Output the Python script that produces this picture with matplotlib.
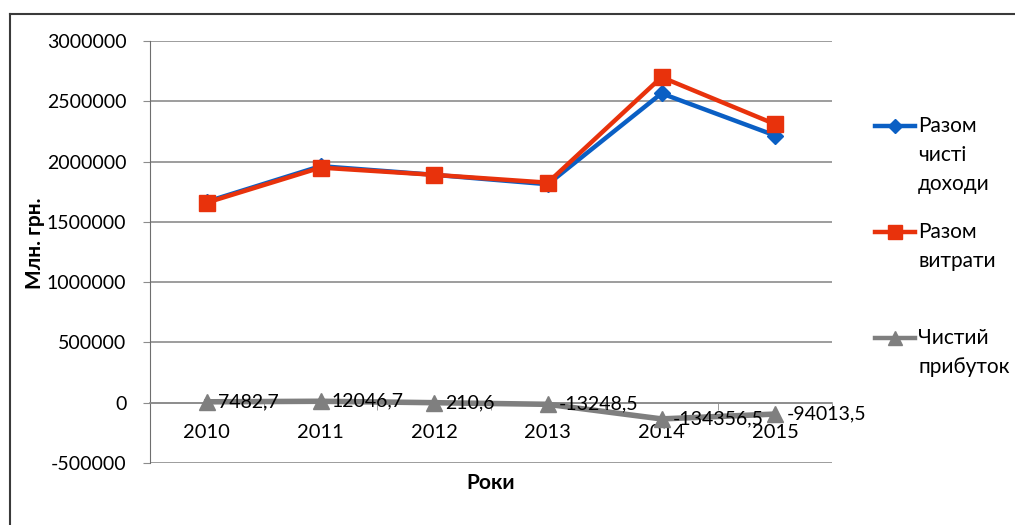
"""Income, expenses and net profit by year, 2010-2015."""

import matplotlib.pyplot as plt
from matplotlib.lines import Line2D
from matplotlib.ticker import FixedLocator, FuncFormatter, MultipleLocator

years = ["2010", "2011", "2012", "2013", "2014", "2015"]
income = [1667500, 1962000, 1890200, 1811800, 2565600, 2216000]
expenses = [1660000, 1950000, 1890000, 1825000, 2700000, 2310000]
net_profit = [7482.7, 12046.7, 210.6, -13248.5, -134356.5, -94013.5]
profit_labels = ["7482,7", "12046,7", "210,6", "-13248,5", "-134356,5", "-94013,5"]

series_names = [["Разом", "чисті", "доходи"], ["Разом", "витрати"], ["Чистий", "прибуток"]]

BLUE = "#0a5fc4"
RED = "#e8320c"
GREY = "#7f7f7f"
FS = 14

plt.rcParams["font.family"] = ["Lato", "DejaVu Sans"]

W, H = 1015, 525
fig = plt.figure(figsize=(W / 100, H / 100), dpi=100)
ax = fig.add_axes([150 / W, 1 - 463 / H, 682 / W, 422 / H])

x = range(len(years))
ax.plot(x, income, color=BLUE, lw=3.2, marker="D", ms=8, zorder=3)
ax.plot(x, expenses, color=RED, lw=3.2, marker="s", ms=11, zorder=4)
ax.plot(x, net_profit, color=GREY, lw=4, marker="^", ms=11, zorder=5)

for xi, val, lab in zip(x, net_profit, profit_labels):
    ax.annotate(lab, (xi, val), xytext=(8, 0), textcoords="offset points",
                ha="left", va="center", fontsize=FS, zorder=6)

ax.set_xlim(-0.5, len(years) - 0.5)
ax.set_ylim(-500000, 3000000)
ax.yaxis.set_major_locator(MultipleLocator(500000))
ax.yaxis.set_major_formatter(FuncFormatter(lambda v, _: f"{v:.0f}"))
ax.yaxis.grid(True, color="#8c8c8c", lw=1.2)
ax.set_axisbelow(True)

# category axis crosses the value axis at zero
ax.spines["bottom"].set_position(("data", 0))
ax.spines["bottom"].set_color("#8c8c8c")
ax.spines["bottom"].set_linewidth(1.2)
ax.spines["left"].set_color("#6e6e6e")
ax.spines["top"].set_visible(False)
ax.spines["right"].set_visible(False)

ax.set_xticks(list(x))
ax.set_xticklabels(years)
ax.xaxis.set_minor_locator(FixedLocator([i - 0.5 for i in range(len(years) + 1)]))
ax.tick_params(axis="x", which="major", length=0, pad=15, labelsize=FS + 0.5)
ax.tick_params(axis="x", which="minor", length=5, color="#8c8c8c", direction="out")
ax.tick_params(axis="y", length=5, color="#8c8c8c", pad=12, labelsize=FS)

fig.text(35 / W, 1 - 243 / H, "Млн. грн.", rotation=90, ha="center", va="center",
         fontsize=FS + 1, fontweight="bold")
fig.text(491 / W, 1 - 483 / H, "Роки", ha="center", va="center",
         fontsize=FS + 1, fontweight="bold")

# legend on the right, handle aligned with the first line of each label
legend_styles = [(BLUE, "D", 7), (RED, "s", 10), (GREY, "^", 10)]
legend_tops = [126, 232, 338]
for (color, marker, ms), lines, ytop in zip(legend_styles, series_names, legend_tops):
    yf = 1 - ytop / H
    fig.add_artist(Line2D([875 / W, 915 / W], [yf, yf], color=color, lw=3.2))
    fig.add_artist(Line2D([895 / W], [yf], color=color, marker=marker, ms=ms))
    for k, line in enumerate(lines):
        fig.text(918 / W, 1 - (ytop + 29 * k) / H, line, ha="left", va="center",
                 fontsize=FS + 1)

# chart frame (top and left edges)
fig.add_artist(Line2D([10 / W, 1], [1 - 14 / H, 1 - 14 / H], color="#3a3a3a", lw=1.5))
fig.add_artist(Line2D([10 / W, 10 / W], [0, 1 - 14 / H], color="#3a3a3a", lw=1.5))

fig.savefig("out.png", dpi=100)
